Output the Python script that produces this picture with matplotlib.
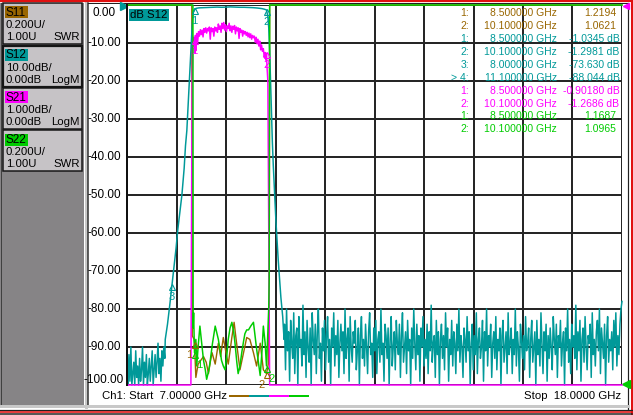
import numpy as np
import matplotlib
matplotlib.use('Agg')
import matplotlib.pyplot as plt
from matplotlib.patches import Rectangle
from matplotlib.transforms import blended_transform_factory, ScaledTranslation

# trace colours (S11, S12, S21, S22)
BROWN = '#996600'
TEAL = '#009999'
MAGENTA = '#ff00ff'
GREEN = '#00cc00'

# ---- channel setup panel ----
trace_names = ['S11', 'S12', 'S21', 'S22']
trace_colors = [BROWN, TEAL, MAGENTA, GREEN]
scale_lines = ['0.200U/', '10.00dB/', '1.000dB/', '0.200U/']
ref_lines = ['1.00U', '0.00dB', '0.00dB', '1.00U']
format_lines = ['SWR', 'LogM', 'LogM', 'SWR']

# ---- axis ----
f_start, f_stop = 7.0, 18.0
y_ticks = list(range(0, -101, -10))

# ---- S12 (dB, 10 dB/div) ----
s12_noise_left = [-96, -100, -92, -99, -90, -100, -97, -94, -100, -91, -98, -95, -100, -93,
                  -99, -96, -90, -100, -94, -98, -92, -100, -97, -93, -99, -95, -91, -100,
                  -96, -92, -98, -94, -89, -97, -93, -99, -91, -95, -90, -93]
s12_skirt_lo_f = [7.85, 7.90, 7.95, 8.00, 8.05, 8.09, 8.13, 8.18, 8.22, 8.27, 8.30, 8.33,
                  8.36, 8.40, 8.43, 8.45, 8.47]
s12_skirt_lo_db = [-88, -84, -79, -73.6, -68, -64, -59, -54, -50, -43, -37, -33,
                   -26, -17, -10, -5, -2]
s12_pass_f = [8.50, 8.55, 8.60, 8.70, 8.80, 8.90, 9.00, 9.10, 9.20, 9.30, 9.40, 9.50,
              9.60, 9.70, 9.80, 9.90, 10.00, 10.05, 10.10]
s12_pass_db = [-1.03, -0.85, -0.75, -0.70, -0.65, -0.60, -0.55, -0.60, -0.55, -0.50, -0.55,
               -0.60, -0.60, -0.65, -0.70, -0.80, -0.95, -1.10, -1.30]
s12_skirt_hi_f = [10.13, 10.15, 10.17, 10.19, 10.21, 10.23, 10.25, 10.27, 10.29, 10.31,
                  10.33, 10.36, 10.39, 10.42, 10.46, 10.49]
s12_skirt_hi_db = [-3, -6, -12, -20, -28, -36, -42, -47, -52, -57, -61, -67, -72, -77, -82, -88]
s12_noise_right = [
    -84, -96, -80, -91, -86, -99, -83, -89, -93, -81, -97, -87, -85, -100, -82, -90, -88, -95, -79, -92, -86, -98,
    -83, -90, -94, -85, -100, -81, -88, -92, -84, -97, -86, -80, -93, -89, -99, -85, -91, -83, -96, -87, -82, -94,
    -88, -100, -85, -90, -81, -95, -87, -92, -83, -98, -89, -84, -91, -86, -97, -80, -93, -88, -85, -99, -82, -90,
    -94, -86, -89, -83, -96, -91, -85, -100, -87, -82, -93, -88, -95, -84, -90, -97, -86, -81, -92, -89, -98, -85,
    -91, -83, -97, -88, -86, -94, -80, -92, -89, -99, -84, -87, -93, -85, -100, -88, -82, -95, -90, -86, -96, -83,
    -89, -92, -84, -98, -87, -81, -94, -90, -86, -97, -83, -91, -88, -100, -85, -93, -80, -89, -96, -84, -92, -87,
    -99, -85, -90, -82, -95, -88, -93, -84, -97, -86, -91, -79, -94, -89, -87, -98, -83, -92, -86, -100, -88, -84,
    -93, -87, -96, -81, -90, -85, -99, -88, -92, -83, -95, -86, -89, -97, -84, -91, -80, -94, -87, -90, -98, -85,
    -88, -94, -82, -91, -86, -100, -89, -84, -96, -87, -92, -81, -97, -88, -85, -93, -90, -83, -99, -86, -91, -80,
    -95, -87, -90, -84, -98, -89, -86, -93, -82, -96, -88, -91, -85, -100, -87, -83, -94, -90, -86, -97, -81, -92,
    -89, -85, -97, -88, -92, -80, -95, -86, -90, -99, -84, -88, -93, -87, -96, -82, -91, -89, -85, -98, -88, -83,
    -94, -90, -86, -100, -83, -92, -88, -95, -81, -89, -97, -86, -91, -84, -99, -87, -93, -85, -90, -96, -82, -88,
    -92, -84, -98, -87, -90, -83, -95, -89, -86, -100, -85, -91, -80, -94, -88, -97, -84, -90, -87, -93, -79, -96,
    -86, -91, -83, -99, -88, -85, -94, -82, -90, -96, -87, -89, -84, -98, -81, -92, -88, -95, -86, -83, -91, -80,
    -97, -85, -89, -93, -84, -100, -87, -82, -94, -88, -91, -86, -96, -83, -90, -81, -95, -87, -92, -84, -80, -78]

# ---- S21 (dB, 1 dB/div) ----
s21_edge_lo_f = [8.42, 8.44, 8.45, 8.46, 8.48, 8.50, 8.51, 8.52, 8.53]
s21_edge_lo_db = [-12.0, -4.0, -1.8, -1.2, -0.85, -0.90, -1.25, -0.80, -1.20]
s21_pass_db = [-0.75, -0.98, -0.70, -0.82, -0.65, -0.78, -0.66, -0.84, -0.62, -0.72,
               -0.60, -0.74, -0.62, -0.68, -0.58, -0.90, -0.60, -0.70, -0.62, -0.82,
               -0.58, -0.68, -0.60, -0.72, -0.50, -0.64, -0.55, -0.72, -0.48, -0.62,
               -0.46, -0.66, -0.52, -0.70, -0.55, -0.62, -0.48, -0.68, -0.55, -0.72,
               -0.56, -0.64, -0.54, -0.76, -0.58, -0.68, -0.60, -0.88, -0.62, -0.72,
               -0.66, -0.82, -0.68, -0.76, -0.70, -0.80, -0.72, -0.84, -0.74, -0.86,
               -0.76, -0.90, -0.80, -0.86, -0.82, -0.98, -0.85, -1.02, -0.90, -1.08,
               -0.95, -1.18, -1.05, -1.22, -1.15, -1.38, -1.25, -1.45]
s21_edge_hi_f = [10.10, 10.11, 10.13, 10.14, 10.16, 10.17]
s21_edge_hi_db = [-1.27, -1.60, -2.00, -4.0, -8.0, -12.0]

# ---- S11 / S22 (SWR, 0.2 U/div, ref 1.00 U at bottom) ----
s11_f = [8.45, 8.47, 8.49, 8.50, 8.53, 8.58, 8.64, 8.70, 8.76, 8.81, 8.85, 8.89, 8.96, 9.03,
         9.08, 9.14, 9.20, 9.25, 9.33, 9.38, 9.42, 9.51, 9.59, 9.66, 9.73, 9.81, 9.88, 9.96,
         10.03, 10.10, 10.14, 10.16]
s11_swr = [1.26, 1.25, 1.24, 1.22, 1.04, 1.11, 1.13, 1.15, 1.12, 1.06, 1.12, 1.17, 1.11, 1.22,
           1.15, 1.25, 1.17, 1.11, 1.25, 1.33, 1.25, 1.08, 1.17, 1.25, 1.24, 1.17, 1.10, 1.22,
           1.08, 1.06, 1.11, 1.45]
s22_f = [8.47, 8.48, 8.50, 8.53, 8.55, 8.58, 8.62, 8.66, 8.70, 8.74, 8.77, 8.81, 8.84, 8.90,
         8.96, 9.00, 9.03, 9.07, 9.10, 9.14, 9.18, 9.22, 9.25, 9.29, 9.33, 9.37, 9.40, 9.44,
         9.47, 9.51, 9.55, 9.59, 9.62, 9.66, 9.70, 9.75, 9.81, 9.85, 9.88, 9.92, 9.96, 10.00,
         10.03, 10.07, 10.10, 10.13, 10.15, 10.16]
s22_swr = [1.30, 1.38, 1.17, 1.24, 1.10, 1.20, 1.31, 1.22, 1.13, 1.08, 1.03, 1.07, 1.11, 1.22,
           1.31, 1.27, 1.24, 1.18, 1.13, 1.10, 1.08, 1.16, 1.24, 1.30, 1.33, 1.28, 1.22, 1.12,
           1.06, 1.10, 1.17, 1.23, 1.27, 1.29, 1.29, 1.31, 1.33, 1.25, 1.19, 1.12, 1.05, 1.18,
           1.31, 1.22, 1.10, 1.28, 1.41, 1.55]
swr_out_of_band = 10.0

# ---- markers ----
mk_num = ['1:', '2:', '1:', '2:', '3:', '> 4:', '1:', '2:', '1:', '2:']
mk_freq = ['8.500000 GHz', '10.100000 GHz', '8.500000 GHz', '10.100000 GHz', '8.000000 GHz',
           '11.100000 GHz', '8.500000 GHz', '10.100000 GHz', '8.500000 GHz', '10.100000 GHz']
mk_val = ['1.2194', '1.0621', '-1.0345 dB', '-1.2981 dB', '-73.630 dB', '-88.044 dB',
          '-0.90180 dB', '-1.2686 dB', '1.1687', '1.0965']
mk_trace = [0, 0, 1, 1, 1, 1, 2, 2, 3, 3]
s12_mk_f, s12_mk_db = [8.5, 10.1, 8.0], [-1.0345, -1.2981, -73.630]
s21_mk_f, s21_mk_db = [8.5, 10.1], [-0.9018, -1.2686]
s11_mk_f, s11_mk_swr = [8.5, 10.1], [1.2194, 1.0621]
s22_mk_f, s22_mk_swr = [8.5, 10.1], [1.1687, 1.0965]

FS = 7.8      # general text size
FS_TAB = 7.5  # marker readout


def px(n):
    return n * 0.72


def swr_disp(v):
    return np.clip(-100 + (np.asarray(v) - 1.0) / 0.2 * 10, -100, 0)


def s21_disp(v):
    return np.clip(np.asarray(v) * 10.0, -100, 0)


plt.rcParams['font.family'] = ['Liberation Sans', 'DejaVu Sans']
plt.rcParams['font.size'] = FS

W, H = 633, 415
fig = plt.figure(figsize=(W / 100, H / 100), dpi=100, facecolor='white')

# ---- window decoration in pixel coordinates ----
deco = fig.add_axes([0, 0, 1, 1])
deco.set_xlim(0, W)
deco.set_ylim(H, 0)
deco.axis('off')

deco.add_patch(Rectangle((0, 3), 84, 403, facecolor='#868486', edgecolor='none'))
deco.plot([0.5, 0.5], [3, 406], color='#404040', lw=px(1))
deco.plot([85.5, 85.5], [3, 407], color='#c8c8c8', lw=px(3))
deco.plot([88, 88], [3, 407], color='#303030', lw=px(1.5))
deco.plot([0, W], [1.2, 1.2], color='#e01010', lw=px(2.2))
deco.plot([88, 628], [3.5, 3.5], color='#202020', lw=px(1))
deco.plot([627.5, 627.5], [3, 409], color='#202020', lw=px(1.2))
deco.plot([631.8, 631.8], [0, H], color='#e01010', lw=px(2))
deco.plot([0, 628], [405.5, 405.5], color='#c8c8c8', lw=px(3))
deco.plot([0, 632], [409.5, 409.5], color='#202020', lw=px(1.2))
deco.plot([0, 632], [411.8, 411.8], color='#e01010', lw=px(1.6))
deco.plot([0, 632], [414, 414], color='#202020', lw=px(1.5))

box_tops = [3, 46, 88, 130]
for i, top in enumerate(box_tops):
    lw = px(2.2) if i == 1 else px(1.5)
    deco.add_patch(Rectangle((3, top), 79, 41, facecolor='#c6c3c6',
                             edgecolor='#151515', lw=lw))
    deco.add_patch(Rectangle((5, top + 3.5), 23, 12, facecolor=trace_colors[i],
                             edgecolor='none'))
    deco.text(6, top + 9.5, trace_names[i], va='center', ha='left', fontsize=8.5)
    deco.text(6, top + 22, scale_lines[i], va='center', ha='left', fontsize=8.2)
    deco.text(6, top + 34, ref_lines[i], va='center', ha='left', fontsize=8.2)
    deco.text(80, top + 34, format_lines[i], va='center', ha='right', fontsize=8.2)

# reference position flags
deco.plot([124], [6], marker='>', color=TEAL, ms=6)
deco.plot([625.5], [384], marker='<', color=GREEN, ms=6)
deco.plot([626], [6], marker='<', color=MAGENTA, ms=5)

# status line
deco.text(102, 396, 'Ch1: Start  7.00000 GHz', va='center', ha='left', fontsize=8.2)
deco.text(621, 396, 'Stop  18.0000 GHz', va='center', ha='right', fontsize=8.2)
for k, c in enumerate(trace_colors):
    x0 = 230 + k * 20
    deco.plot([x0, x0 + 18], [395.5, 395.5], color=c, lw=px(2))

# ---- measurement grid ----
ax = fig.add_axes([127 / W, 1 - 385 / H, 495 / W, 380 / H])
ax.set_facecolor('white')
ax.set_xlim(f_start, f_stop)
ax.set_ylim(-100, 0)
ax.set_xticks(np.linspace(f_start, f_stop, 11))
ax.set_yticks(y_ticks)
ax.tick_params(length=0, labelbottom=False, labelleft=False)
ax.grid(True, color='#262626', lw=px(2))
for name, sp in ax.spines.items():
    sp.set_visible(name == 'left')
ax.spines['left'].set_color('#101010')
ax.spines['left'].set_linewidth(px(2))

label_tr = blended_transform_factory(ax.transAxes, ax.transData)
for v in y_ticks:
    dy = -8 if v == 0 else (5 if v == -100 else 0)
    tr = label_tr + ScaledTranslation(0, dy / 100, fig.dpi_scale_trans)
    ax.text(-23 / 495, v, f'{v:.2f}', ha='center', va='center', transform=tr,
            fontsize=8.5, clip_on=False)

# S11
s11_x = [f_start, 8.44] + s11_f + [10.17, f_stop]
s11_y = swr_disp([swr_out_of_band, swr_out_of_band] + s11_swr + [swr_out_of_band, swr_out_of_band])
ax.plot(s11_x, s11_y, color=BROWN, lw=px(1.4), clip_on=False)

# S12
s12_x = np.concatenate([np.linspace(f_start, 7.84, len(s12_noise_left)), s12_skirt_lo_f,
                        s12_pass_f, s12_skirt_hi_f,
                        np.linspace(10.50, f_stop, len(s12_noise_right))])
s12_y = np.clip(np.concatenate([s12_noise_left, s12_skirt_lo_db, s12_pass_db,
                                s12_skirt_hi_db, s12_noise_right]), -100, 0)
ax.plot(s12_x, s12_y, color=TEAL, lw=px(1.5), clip_on=False)

# S21
s21_pass_f = np.round(np.arange(8.55, 10.10, 0.02), 2)[:len(s21_pass_db)]
s21_x = np.concatenate([[f_start], s21_edge_lo_f, s21_pass_f, s21_edge_hi_f, [f_stop]])
s21_y = s21_disp(np.concatenate([[-20.0], s21_edge_lo_db, s21_pass_db, s21_edge_hi_db, [-20.0]]))
ax.plot(s21_x, s21_y, color=MAGENTA, lw=px(1.5), clip_on=False)

# S22
s22_x = [f_start, 8.465] + s22_f + [10.17, f_stop]
s22_y = swr_disp([swr_out_of_band, swr_out_of_band] + s22_swr + [swr_out_of_band, swr_out_of_band])
ax.plot(s22_x, s22_y, color=GREEN, lw=px(1.5), clip_on=False)

# marker glyphs (triangle on the trace, number underneath)
mk_sets = [(s11_mk_f, swr_disp(s11_mk_swr), BROWN, -5),
           (s12_mk_f, np.asarray(s12_mk_db), TEAL, 0),
           (s21_mk_f, s21_disp(s21_mk_db), MAGENTA, 0),
           (s22_mk_f, swr_disp(s22_mk_swr), GREEN, 5)]
for fs, ds, c, dx in mk_sets:
    for j, (f, d) in enumerate(zip(fs, ds)):
        ax.plot([f], [d], marker='^', ms=5, mfc='none', mec=c, mew=0.8,
                clip_on=False, transform=ax.transData + ScaledTranslation(0, -0.02, fig.dpi_scale_trans))
        ax.annotate(str(j + 1), (f, d), xytext=(dx, -12), textcoords='offset pixels',
                    ha='center', va='center', color=c, fontsize=8, annotation_clip=False)

# active trace label
fig.text(130 / W, 1 - 15 / H, 'dB S12', ha='left', va='center', color='black', fontsize=8.2,
         bbox=dict(boxstyle='square,pad=0.12', facecolor=TEAL, edgecolor='none'))

# marker readout table
for i in range(len(mk_num)):
    y = 1 - (13.2 + i * 12.9) / H
    c = trace_colors[mk_trace[i]]
    x_val = 619.5 if mk_val[i].endswith('dB') else 616
    fig.text(469 / W, y, mk_num[i], ha='right', va='center', color=c, fontsize=FS_TAB)
    fig.text(557 / W, y, mk_freq[i], ha='right', va='center', color=c, fontsize=FS_TAB)
    fig.text(x_val / W, y, mk_val[i], ha='right', va='center', color=c, fontsize=FS_TAB)

fig.savefig('out.png', dpi=100, facecolor='white')
